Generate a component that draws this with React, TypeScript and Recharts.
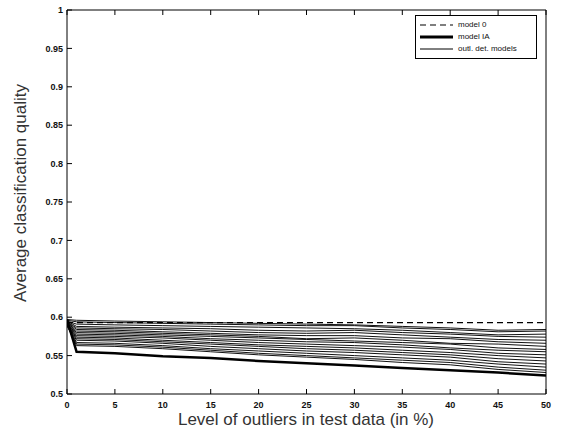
import React from 'react'
import { LineChart, Line, XAxis, YAxis, Legend } from 'recharts'

// outlier level (%)
const levels = [0, 1, 5, 10, 15, 20, 25, 30, 35, 40, 45, 50]

const model0 = [0.593, 0.593, 0.593, 0.593, 0.593, 0.593, 0.593, 0.593, 0.593, 0.593, 0.593, 0.593]
const modelIA = [0.597, 0.555, 0.553, 0.549, 0.547, 0.543, 0.540, 0.537, 0.534, 0.531, 0.528, 0.524]

// outlier detection models
const outl01 = [0.597, 0.596, 0.595, 0.594, 0.593, 0.592, 0.591, 0.590, 0.588, 0.586, 0.583, 0.584]
const outl02 = [0.596, 0.594, 0.593, 0.592, 0.591, 0.590, 0.589, 0.589, 0.586, 0.584, 0.581, 0.582]
const outl03 = [0.595, 0.591, 0.590, 0.589, 0.588, 0.587, 0.586, 0.585, 0.583, 0.580, 0.577, 0.578]
const outl04 = [0.595, 0.588, 0.587, 0.586, 0.585, 0.583, 0.582, 0.583, 0.580, 0.578, 0.575, 0.574]
const outl05 = [0.594, 0.586, 0.585, 0.584, 0.582, 0.580, 0.579, 0.580, 0.577, 0.574, 0.571, 0.570]
const outl06 = [0.594, 0.584, 0.583, 0.581, 0.579, 0.577, 0.576, 0.576, 0.573, 0.572, 0.568, 0.566]
const outl07 = [0.593, 0.582, 0.581, 0.579, 0.577, 0.575, 0.572, 0.573, 0.570, 0.566, 0.565, 0.562]
const outl08 = [0.593, 0.580, 0.579, 0.577, 0.575, 0.573, 0.571, 0.569, 0.567, 0.565, 0.560, 0.558]
const outl09 = [0.592, 0.578, 0.577, 0.575, 0.572, 0.570, 0.568, 0.567, 0.564, 0.560, 0.557, 0.555]
const outl10 = [0.592, 0.576, 0.575, 0.573, 0.570, 0.567, 0.565, 0.563, 0.561, 0.558, 0.553, 0.551]
const outl11 = [0.591, 0.574, 0.573, 0.570, 0.567, 0.564, 0.562, 0.560, 0.557, 0.554, 0.550, 0.547]
const outl12 = [0.591, 0.572, 0.571, 0.568, 0.565, 0.562, 0.559, 0.557, 0.554, 0.551, 0.546, 0.543]
const outl13 = [0.590, 0.570, 0.569, 0.566, 0.562, 0.559, 0.556, 0.554, 0.551, 0.548, 0.542, 0.539]
const outl14 = [0.590, 0.567, 0.566, 0.563, 0.559, 0.556, 0.553, 0.550, 0.547, 0.544, 0.539, 0.535]
const outl15 = [0.589, 0.565, 0.564, 0.561, 0.557, 0.553, 0.550, 0.547, 0.544, 0.541, 0.535, 0.531]
const outl16 = [0.589, 0.563, 0.562, 0.559, 0.555, 0.551, 0.548, 0.545, 0.541, 0.538, 0.532, 0.528]

const outlSeries = [outl01, outl02, outl03, outl04, outl05, outl06, outl07, outl08,
  outl09, outl10, outl11, outl12, outl13, outl14, outl15, outl16]

const xTicks = [0, 5, 10, 15, 20, 25, 30, 35, 40, 45, 50]
const yTicks = [0.5, 0.55, 0.6, 0.65, 0.7, 0.75, 0.8, 0.85, 0.9, 0.95, 1]

const data = levels.map((x, i) => {
  const row: Record<string, number> = { x, m0: model0[i], ia: modelIA[i] }
  outlSeries.forEach((s, k) => { row['o' + k] = s[i] })
  return row
})

const font = 'Arial, "Liberation Sans", Helvetica, sans-serif'
const tickStyle = { fill: '#111', fontSize: 9, fontWeight: 700, fontFamily: font }
const fmtY = (v: number) => String(+v.toFixed(2))

function LegendBox() {
  const row = (sample: React.ReactNode, text: string) => (
    <div style={{ display: 'flex', alignItems: 'center', height: 12 }}>
      <svg width={34} height={6} style={{ marginRight: 4 }}>{sample}</svg>
      <span>{text}</span>
    </div>
  )
  return (
    <div style={{ border: '1px solid #000', background: '#fff', padding: '3px 4px', width: 112, fontFamily: font, fontSize: 8, color: '#111', lineHeight: '12px' }}>
      {row(<line x1={0} y1={3} x2={33} y2={3} stroke="#000" strokeWidth={1.2} strokeDasharray="6 4" />, 'model 0')}
      {row(<line x1={0} y1={3} x2={33} y2={3} stroke="#000" strokeWidth={3} />, 'model IA')}
      {row(<line x1={0} y1={3} x2={33} y2={3} stroke="#000" strokeWidth={1} />, 'outl. det. models')}
    </div>
  )
}

export default function App() {
  return (
    <div style={{ position: 'absolute', left: 0, top: 0, width: 561, height: 433, background: '#fff' }}>
      <LineChart width={561} height={433} data={data} margin={{ top: 9, right: 14, bottom: 0, left: 0 }}>
        <XAxis dataKey="x" type="number" domain={[0, 50]} ticks={xTicks} allowDataOverflow
          height={39} tickSize={-5} tickMargin={13} tick={tickStyle}
          axisLine={{ stroke: '#000' }} tickLine={{ stroke: '#000' }}
          label={{ content: () => (
            <text x={306} y={425} textAnchor="middle" fontFamily={font} fontSize={17} fill="#333">Level of outliers in test data (in %)</text>
          ) }} />
        <XAxis xAxisId="top" orientation="top" dataKey="x" type="number" domain={[0, 50]} ticks={xTicks}
          height={1} tickSize={-5} tickFormatter={() => ''} axisLine={{ stroke: '#000' }} tickLine={{ stroke: '#000' }} />
        <YAxis type="number" domain={[0.5, 1]} ticks={yTicks} allowDataOverflow width={67}
          tickSize={-5} tickMargin={9} tick={tickStyle} tickFormatter={fmtY}
          axisLine={{ stroke: '#000' }} tickLine={{ stroke: '#000' }}
          label={{ content: () => (
            <text x={22} y={193} transform="rotate(-90 22 193)" textAnchor="middle" dominantBaseline="middle" fontFamily={font} fontSize={17} fill="#333">Average classification quality</text>
          ) }} />
        <YAxis yAxisId="right" orientation="right" type="number" domain={[0.5, 1]} ticks={yTicks} width={1}
          tickSize={-5} tickFormatter={() => ''} axisLine={{ stroke: '#000' }} tickLine={{ stroke: '#000' }} />
        {outlSeries.map((_, k) => (
          <Line key={k} dataKey={'o' + k} stroke="#111" strokeWidth={1} dot={false} isAnimationActive={false} />
        ))}
        <Line dataKey="ia" stroke="#000" strokeWidth={2.5} dot={false} isAnimationActive={false} />
        <Line dataKey="m0" stroke="#000" strokeWidth={1.2} strokeDasharray="6 4" dot={false} isAnimationActive={false} />
        <Legend layout="vertical" align="center" verticalAlign="middle"
          wrapperStyle={{ left: 415, top: 15, width: 'auto' }} content={() => <LegendBox />} />
      </LineChart>
    </div>
  )
}
